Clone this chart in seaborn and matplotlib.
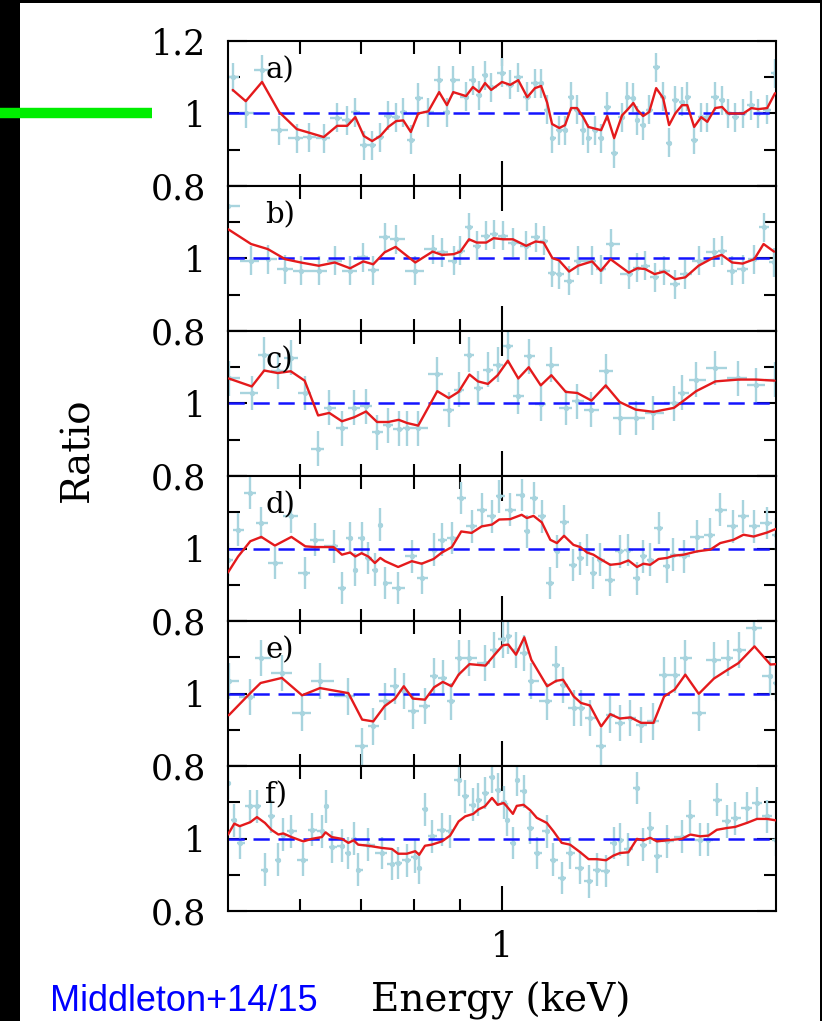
import numpy as np
import matplotlib
matplotlib.use("Agg")
import matplotlib.pyplot as plt
from matplotlib.lines import Line2D
from matplotlib.patches import Rectangle
from matplotlib.ticker import NullFormatter
import seaborn as sns

# ---- data (energy in keV, ratio data/model) ----
energy_a = [0.506, 0.523, 0.545, 0.569, 0.595, 0.614, 0.637, 0.659, 0.676, 0.690,
            0.705, 0.720, 0.735, 0.750, 0.765, 0.779, 0.794, 0.809, 0.830, 0.853,
            0.870, 0.884, 0.913, 0.929, 0.944, 0.958, 0.973, 1.000, 1.021, 1.042,
            1.066, 1.087, 1.104, 1.121, 1.135, 1.156, 1.173, 1.191, 1.209, 1.228,
            1.244, 1.266, 1.285, 1.305, 1.328, 1.355, 1.373, 1.394, 1.408, 1.429,
            1.451, 1.477, 1.503, 1.526, 1.550, 1.577, 1.598, 1.626, 1.655, 1.681,
            1.715, 1.745, 1.772, 1.804, 1.841, 1.879, 1.912, 1.956, 1.995]
model_a = [1.065, 1.034, 1.087, 1.004, 0.957, 0.947, 0.935, 0.966, 0.966, 0.990,
           0.938, 0.924, 0.938, 0.963, 0.979, 0.981, 0.949, 1.000, 1.006, 1.059,
           1.023, 1.059, 1.048, 1.073, 1.059, 1.084, 1.065, 1.087, 1.079, 1.092,
           1.045, 1.070, 1.076, 1.030, 0.971, 0.960, 0.968, 1.015, 1.015, 0.990,
           0.963, 0.958, 0.954, 0.993, 0.932, 0.995, 1.010, 1.029, 1.010, 0.993,
           1.004, 1.070, 1.043, 0.968, 1.000, 1.023, 1.023, 0.963, 0.990, 0.977,
           1.015, 1.018, 1.000, 1.000, 1.000, 1.015, 1.012, 1.015, 1.056]
data_a = [1.100, 1.000, 1.120, 0.954, 0.932, 0.935, 0.932, 0.988, 0.982, 1.003,
          0.913, 0.913, 0.935, 0.994, 0.990, 1.003, 0.927, 1.043, 1.003, 1.092,
          1.003, 1.092, 1.046, 1.092, 1.050, 1.106, 1.073, 1.113, 1.079, 1.100,
          1.046, 1.084, 1.084, 1.010, 0.932, 0.954, 0.954, 1.046, 1.010, 0.954,
          0.932, 0.954, 0.932, 1.018, 0.891, 0.990, 1.046, 1.043, 0.982, 0.968,
          1.010, 1.128, 1.046, 0.919, 1.037, 1.032, 1.046, 0.927, 0.990, 0.990,
          1.046, 1.037, 1.000, 0.990, 1.000, 1.023, 1.000, 1.010, 1.111]

energy_b = [0.500, 0.530, 0.553, 0.578, 0.601, 0.629, 0.655, 0.681, 0.704, 0.722,
            0.743, 0.764, 0.803, 0.839, 0.859, 0.885, 0.900, 0.920, 0.938, 0.961,
            0.979, 1.003, 1.028, 1.063, 1.089, 1.111, 1.136, 1.155, 1.185, 1.212,
            1.256, 1.284, 1.316, 1.378, 1.408, 1.436, 1.471, 1.507, 1.549, 1.590,
            1.644, 1.709, 1.743, 1.790, 1.838, 1.893, 1.938, 1.990]
model_b = [1.081, 1.040, 1.026, 0.998, 0.989, 0.980, 0.989, 0.973, 0.992, 0.984,
           1.017, 1.032, 0.989, 1.019, 1.010, 1.012, 1.019, 1.053, 1.044, 1.044,
           1.056, 1.053, 1.053, 1.035, 1.047, 1.044, 1.001, 0.995, 0.964, 0.980,
           0.992, 0.966, 0.998, 0.961, 0.973, 0.971, 0.957, 0.964, 0.943, 0.948,
           0.980, 1.003, 1.010, 0.989, 0.986, 0.998, 1.040, 1.019]
data_b = [1.145, 0.994, 0.998, 0.971, 0.966, 0.966, 0.994, 0.966, 1.003, 0.968,
          1.058, 1.053, 0.966, 1.026, 1.017, 0.994, 1.021, 1.086, 1.035, 1.063,
          1.067, 1.063, 1.044, 1.035, 1.058, 1.049, 0.961, 0.957, 0.938, 0.994,
          0.994, 0.971, 1.040, 0.957, 0.975, 0.980, 0.948, 0.966, 0.929, 0.957,
          0.994, 1.017, 1.021, 0.966, 0.971, 0.998, 1.086, 0.989]

energy_c = [0.501, 0.531, 0.548, 0.567, 0.586, 0.607, 0.628, 0.646, 0.667, 0.688,
            0.709, 0.729, 0.750, 0.770, 0.787, 0.809, 0.849, 0.874, 0.896, 0.921,
            0.941, 0.965, 0.989, 1.015, 1.042, 1.070, 1.103, 1.133, 1.175, 1.210,
            1.254, 1.300, 1.347, 1.403, 1.467, 1.545, 1.576, 1.634, 1.716, 1.818,
            1.902, 1.993]
model_c = [1.069, 1.047, 1.091, 1.084, 1.089, 1.063, 0.967, 0.974, 0.951, 0.962,
           0.978, 0.949, 0.949, 0.955, 0.946, 0.939, 1.034, 1.015, 1.032, 1.080,
           1.061, 1.054, 1.078, 1.118, 1.069, 1.100, 1.050, 1.078, 1.032, 1.029,
           1.008, 1.050, 1.004, 0.983, 0.977, 0.988, 1.004, 1.034, 1.061, 1.066,
           1.066, 1.063]
data_c = [1.070, 1.029, 1.135, 1.089, 1.126, 1.029, 0.875, 0.988, 0.932, 0.988,
          0.992, 0.921, 0.940, 0.931, 0.932, 0.932, 1.080, 0.983, 1.038, 1.135,
          1.043, 1.093, 1.107, 1.158, 1.020, 1.130, 0.999, 1.107, 0.988, 1.006,
          0.983, 1.089, 0.960, 0.960, 0.974, 1.001, 1.030, 1.066, 1.098, 1.070,
          1.050, 1.066]

energy_d = [0.500, 0.513, 0.529, 0.544, 0.563, 0.587, 0.608, 0.623, 0.653, 0.667,
            0.681, 0.690, 0.701, 0.713, 0.725, 0.735, 0.744, 0.769, 0.796, 0.816,
            0.841, 0.859, 0.881, 0.902, 0.926, 0.950, 0.975, 0.993, 1.021, 1.051,
            1.065, 1.083, 1.106, 1.130, 1.149, 1.170, 1.198, 1.219, 1.240, 1.260,
            1.282, 1.315, 1.348, 1.377, 1.407, 1.430, 1.455, 1.486, 1.518, 1.543,
            1.583, 1.637, 1.694, 1.737, 1.796, 1.842, 1.890, 1.955, 2.000]
model_d = [0.934, 0.978, 1.020, 1.032, 1.008, 1.032, 1.006, 1.004, 1.004, 0.983,
           0.989, 0.978, 0.987, 0.978, 0.960, 0.974, 0.965, 0.949, 0.965, 0.958,
           0.971, 0.989, 1.004, 1.047, 1.043, 1.061, 1.066, 1.080, 1.081, 1.093,
           1.084, 1.090, 1.072, 1.024, 1.015, 1.035, 1.010, 1.004, 0.989, 0.983,
           0.971, 0.955, 0.958, 0.967, 0.949, 0.958, 0.955, 0.971, 0.974, 0.980,
           0.983, 0.992, 0.997, 1.015, 1.024, 1.038, 1.033, 1.044, 1.054]
data_d = [0.969, 1.052, 1.153, 1.070, 0.960, 1.089, 0.932, 1.024, 1.006, 0.891,
          1.029, 0.942, 1.029, 0.974, 0.942, 1.066, 0.905, 0.891, 0.978, 0.919,
          0.997, 1.024, 1.029, 1.139, 1.061, 1.107, 1.089, 1.144, 1.107, 1.148,
          1.047, 1.139, 1.089, 0.905, 0.992, 1.074, 0.955, 0.973, 0.996, 0.932,
          0.969, 0.914, 0.992, 0.996, 0.918, 0.978, 0.969, 1.057, 0.951, 0.983,
          0.978, 1.033, 1.038, 1.107, 1.061, 1.089, 1.061, 1.070, 1.038]

energy_e = [0.501, 0.528, 0.543, 0.573, 0.603, 0.631, 0.678, 0.702, 0.722, 0.743,
            0.763, 0.780, 0.798, 0.823, 0.842, 0.861, 0.880, 0.896, 0.921, 0.959,
            0.980, 1.002, 1.016, 1.036, 1.058, 1.077, 1.121, 1.147, 1.167, 1.199,
            1.221, 1.249, 1.285, 1.315, 1.347, 1.384, 1.422, 1.467, 1.507, 1.548,
            1.590, 1.645, 1.709, 1.771, 1.819, 1.894, 1.972, 1.998]
model_e = [0.940, 0.999, 1.029, 1.043, 0.995, 1.015, 1.001, 0.928, 0.923, 0.965,
           0.986, 1.020, 0.986, 0.983, 1.017, 1.032, 1.020, 1.052, 1.081, 1.077,
           1.105, 1.133, 1.135, 1.107, 1.155, 1.093, 1.020, 1.035, 1.038, 0.992,
           0.974, 0.967, 0.909, 0.943, 0.931, 0.934, 0.919, 0.919, 0.992, 1.011,
           1.052, 0.999, 1.041, 1.066, 1.084, 1.130, 1.080, 1.081]
data_e = [1.034, 0.990, 1.098, 1.057, 0.946, 1.034, 0.992, 0.854, 0.909, 0.978,
          1.020, 1.006, 0.951, 0.965, 1.047, 1.043, 0.978, 1.098, 1.098, 1.084,
          1.121, 1.149, 1.158, 1.121, 1.112, 1.034, 0.978, 1.080, 1.024, 0.960,
          0.960, 0.932, 0.854, 0.942, 0.919, 0.932, 0.914, 0.923, 1.052, 1.052,
          1.098, 0.946, 1.093, 1.098, 1.121, 1.181, 1.047, 1.030]

energy_f = [0.500, 0.508, 0.515, 0.529, 0.538, 0.549, 0.558, 0.568, 0.575, 0.587,
            0.605, 0.618, 0.634, 0.640, 0.650, 0.667, 0.678, 0.687, 0.695, 0.713,
            0.738, 0.757, 0.769, 0.786, 0.803, 0.811, 0.823, 0.837, 0.859, 0.877,
            0.896, 0.911, 0.930, 0.942, 0.958, 0.975, 0.989, 1.004, 1.012, 1.028,
            1.038, 1.056, 1.074, 1.092, 1.120, 1.139, 1.163, 1.188, 1.219, 1.245,
            1.271, 1.301, 1.326, 1.348, 1.377, 1.407, 1.430, 1.455, 1.480, 1.518,
            1.576, 1.610, 1.651, 1.686, 1.722, 1.767, 1.804, 1.858, 1.906, 1.955,
            2.000]
model_f = [1.011, 1.041, 1.034, 1.045, 1.059, 1.043, 1.024, 1.011, 1.014, 1.004,
           0.992, 0.999, 1.004, 1.017, 1.004, 0.999, 0.988, 0.995, 0.983, 0.980,
           0.974, 0.971, 0.958, 0.958, 0.965, 0.955, 0.980, 0.983, 0.992, 1.008,
           1.047, 1.061, 1.068, 1.080, 1.089, 1.112, 1.093, 1.098, 1.089, 1.068,
           1.090, 1.093, 1.078, 1.057, 1.043, 1.020, 0.988, 0.983, 0.962, 0.943,
           0.943, 0.940, 0.953, 0.960, 0.962, 0.999, 0.995, 1.002, 0.992, 0.995,
           0.999, 1.011, 1.006, 1.008, 1.024, 1.029, 1.032, 1.043, 1.054, 1.054,
           1.050]
data_f = [1.153, 1.050, 0.988, 1.089, 1.089, 0.914, 1.061, 0.942, 1.011, 1.020,
          0.942, 1.024, 1.020, 1.089, 0.977, 0.980, 0.960, 1.000, 0.914, 0.983,
          0.960, 0.930, 0.932, 0.940, 0.950, 0.919, 1.080, 1.006, 1.024, 1.020,
          1.162, 1.116, 1.093, 1.107, 1.125, 1.171, 1.135, 1.100, 1.052, 0.988,
          1.162, 1.130, 1.029, 0.960, 1.020, 0.942, 0.891, 0.960, 0.920, 0.882,
          0.914, 0.910, 0.988, 0.997, 0.970, 1.139, 0.983, 1.029, 0.951, 0.992,
          1.005, 1.061, 0.997, 0.997, 1.107, 1.047, 1.056, 1.084, 1.098, 1.061,
          0.997]

panel_labels = ["a)", "b)", "c)", "d)", "e)", "f)"]
panel_errors = [0.040, 0.040, 0.048, 0.045, 0.050, 0.045]


def bin_halfwidths(energy):
    # bin edges halfway (in log) between neighbouring channels
    e = np.asarray(energy)
    edges = np.sqrt(e[1:] * e[:-1])
    lo = np.empty_like(e)
    hi = np.empty_like(e)
    lo[1:] = e[1:] - edges
    hi[:-1] = edges - e[:-1]
    lo[0] = hi[0]
    hi[-1] = lo[-1]
    return lo, hi


panels = list(zip(panel_labels,
                  [energy_a, energy_b, energy_c, energy_d, energy_e, energy_f],
                  [model_a, model_b, model_c, model_d, model_e, model_f],
                  [data_a, data_b, data_c, data_d, data_e, data_f],
                  panel_errors))

sns.set_theme(style="ticks")
plt.rcParams["font.family"] = ["DejaVu Serif"]
plt.rcParams["axes.linewidth"] = 1.5
plt.rcParams["axes.edgecolor"] = "black"

W, H = 822, 1021
fig, axes = plt.subplots(6, 1, figsize=(W / 100, H / 100), dpi=100, sharex=True)
fig.subplots_adjust(left=228 / W, right=776 / W, top=1 - 41 / H,
                    bottom=1 - 911 / H, hspace=0)

for i, (ax, (label, energy, model, data, err)) in enumerate(zip(axes, panels)):
    lo, hi = bin_halfwidths(energy)
    ax.errorbar(energy, data, xerr=[lo, hi], yerr=err, fmt="o", ms=2.8,
                color="#a8d4de", ecolor="#a8d4de", elinewidth=1.7,
                capsize=0, zorder=1)
    ax.axhline(1.0, color="#1414ff", lw=1.8, ls=(0, (6.5, 3.5)), zorder=2)
    sns.lineplot(x=energy, y=model, ax=ax, color="#e41a1c", lw=1.7,
                 estimator=None, sort=False, zorder=3)

    ax.set_xscale("log")
    ax.set_xlim(0.5, 2.0)
    ax.set_ylim(0.8, 1.2)
    ax.set_xticks([1.0])
    ax.set_xticklabels(["1"])
    ax.set_xticks([0.6, 0.7, 0.8, 0.9], minor=True)
    ax.xaxis.set_minor_formatter(NullFormatter())
    ax.set_yticks([0.8, 1.0, 1.2])
    ax.set_yticklabels(["0.8", "1", "1.2" if i == 0 else ""])
    ax.set_yticks([0.9, 1.1], minor=True)

    ax.tick_params(axis="both", which="both", direction="in", top=True,
                   right=True, width=1.5, color="black", labelsize=25,
                   labelcolor="black")
    ax.tick_params(axis="x", which="major", length=18, pad=14)
    ax.tick_params(axis="x", which="minor", length=9)
    ax.tick_params(axis="y", which="major", length=14, pad=16)
    ax.tick_params(axis="y", which="minor", length=8.5)
    ax.set_xlabel("")
    ax.set_ylabel("")
    for s in ax.spines.values():
        s.set_color("black")
        s.set_linewidth(1.5)

    ax.text(0.068, 0.8, label, transform=ax.transAxes, fontsize=21,
            ha="left", va="center", color="black")

fig.text(78 / W, 1 - 450 / H, "Ratio", rotation=90, fontsize=28,
         ha="center", va="center", color="black")
fig.text(501 / W, 1 - 1011 / H, "Energy (keV)", fontsize=28,
         ha="center", va="baseline", color="black")
fig.text(50 / W, 1 - 1011 / H, "Middleton+14/15", fontsize=26,
         family=["Liberation Sans", "DejaVu Sans"], color="#0000ff",
         ha="left", va="baseline")

# black border strips and the green marker bar
fig.add_artist(Rectangle((0, 0), 20 / W, 1, transform=fig.transFigure,
                         facecolor="black", edgecolor="none"))
fig.add_artist(Rectangle((0, 1 - 3 / H), 1, 3 / H, transform=fig.transFigure,
                         facecolor="black", edgecolor="none"))
fig.add_artist(Rectangle((820 / W, 0), 2 / W, 1, transform=fig.transFigure,
                         facecolor="black", edgecolor="none"))
fig.add_artist(Line2D([0, 152 / W], [1 - 113.5 / H, 1 - 113.5 / H],
                      transform=fig.transFigure, color="#00ee00", lw=7.5,
                      solid_capstyle="butt"))

fig.savefig("out.png", dpi=100)
